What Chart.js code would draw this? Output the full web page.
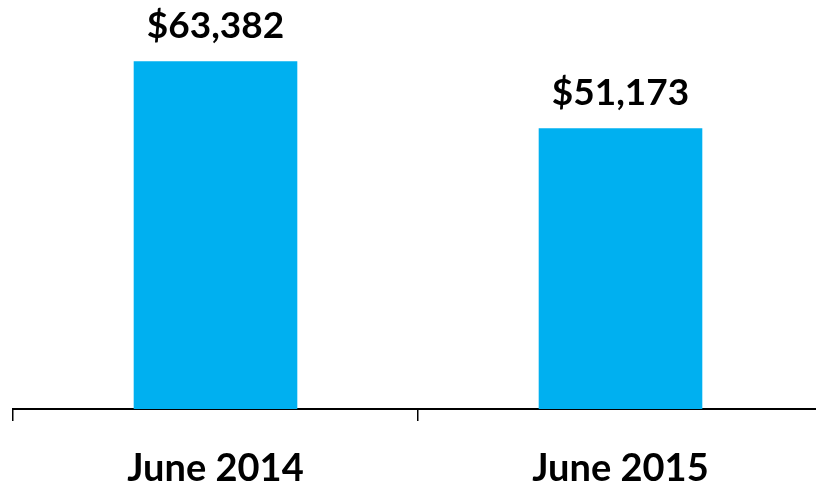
<!DOCTYPE html>
<html>
<head>
<meta charset="utf-8">
<script src="https://cdn.jsdelivr.net/npm/chart.js@4.4.0/dist/chart.umd.min.js"></script>
<style>
  html, body { margin: 0; padding: 0; background: #fff; overflow: hidden; }
  #wrap { width: 823px; height: 487px; }
</style>
</head>
<body>
<div id="wrap"><canvas id="sales_chart"></canvas></div>
<script>
// values
const categories = ['June 2014', 'June 2015'];
const salesValues = [63382, 51173];
const barColor = '#00B0F0';

const ctx = document.getElementById('sales_chart').getContext('2d');

// writes the dollar value above every bar
const barValueText = {
    id: 'barValueText',
    afterDatasetsDraw(chart) {
        const {ctx} = chart;
        ctx.save();
        ctx.font = 'bold 37px Lato';
        ctx.fillStyle = '#000';
        ctx.textAlign = 'center';
        ctx.textBaseline = 'alphabetic';
        chart.getDatasetMeta(0).data.forEach((bar, i) => {
            const txt = '$' + salesValues[i].toLocaleString('en-US');
            ctx.fillText(txt, bar.x, bar.y - 23);
        });
        ctx.restore();
    }
};

let salesChart = new Chart(ctx, {
    type: 'bar',
    data: {
        labels: categories,
        datasets: [{
            data: salesValues,
            backgroundColor: barColor,
            categoryPercentage: 1,
            barPercentage: 0.404
        }]
    },
    options: {
        responsive: true,
        maintainAspectRatio: false,
        animation: false,
        layout: {
            padding: {left: 13, right: 0, top: 25, bottom: 0}
        },
        plugins: {
            legend: {display: false},
            tooltip: {enabled: false}
        },
        scales: {
            x: {
                offset: true,
                grid: {
                    offset: true,
                    drawOnChartArea: false,
                    drawTicks: true,
                    tickLength: 12,
                    tickColor: '#000',
                    lineWidth: 1.5
                },
                border: {display: true, color: '#000', width: 2},
                ticks: {
                    color: '#000',
                    font: {family: 'Lato', weight: 'bold', size: 38},
                    padding: 25,
                    maxRotation: 0
                },
                afterFit(scale) { scale.height = 78; }
            },
            y: {
                display: false,
                min: 0,
                max: 70000
            }
        }
    },
    plugins: [barValueText]
});
</script>
</body>
</html>
